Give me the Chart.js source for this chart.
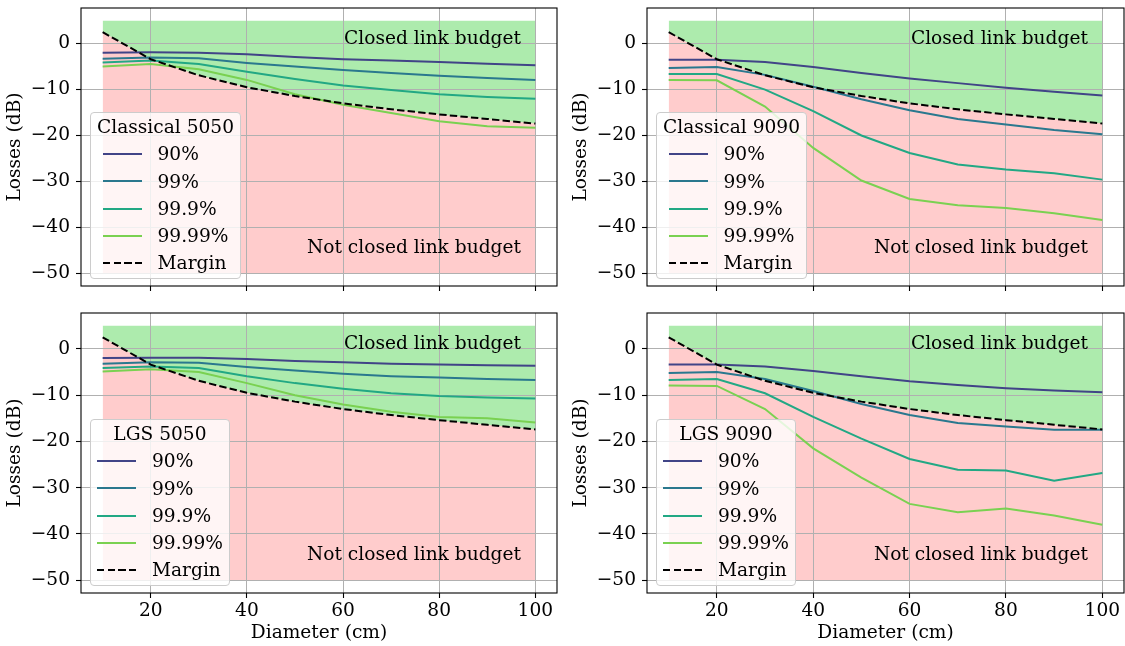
<!DOCTYPE html>
<html>
<head>
<script src="https://cdn.jsdelivr.net/npm/chart.js"></script>
<style>
  body { margin: 0; background: #fff; }
  #fig { position: relative; width: 1125px; height: 646px; overflow: hidden; font-family: 'DejaVu Serif', serif; }
  .panel { position: absolute; }
  .legend { position: absolute; background: rgba(255, 255, 255, 0.8); border: 1px solid #cccccc; border-radius: 4px;
            font-size: 18.6px; line-height: 27.3px; text-align: center; padding: 0 6px 1px; box-sizing: border-box; color: #000; }
  .legend .rows { display: inline-block; text-align: left; }
  .legend .row { display: flex; align-items: center; height: 27.3px; }
  .legend .swatch { width: 39px; height: 2px; margin-right: 16px; flex: none; }
</style>
</head>
<body>
<div id="fig"></div>
<script>
// diameters in cm
const diameters = [10, 20, 30, 40, 50, 60, 70, 80, 90, 100];
const margin = [2.5, -3.4, -6.9, -9.5, -11.4, -13.0, -14.3, -15.4, -16.4, -17.4];

const classical5050_90   = [-2.0, -1.9, -2.0, -2.3, -2.9, -3.4, -3.7, -4.0, -4.4, -4.7];
const classical5050_99   = [-3.3, -3.0, -3.2, -4.2, -5.0, -5.75, -6.4, -7.0, -7.5, -7.9];
const classical5050_999  = [-4.1, -3.7, -4.45, -6.1, -7.7, -9.1, -10.1, -11.0, -11.6, -12.0];
const classical5050_9999 = [-5.0, -4.45, -5.6, -7.9, -11.0, -13.3, -15.1, -16.9, -18.0, -18.3];

const classical9090_90   = [-3.5, -3.5, -4.0, -5.1, -6.4, -7.6, -8.6, -9.6, -10.5, -11.3];
const classical9090_99   = [-5.3, -5.1, -6.8, -9.4, -12.1, -14.5, -16.4, -17.6, -18.8, -19.7];
const classical9090_999  = [-6.6, -6.6, -10.0, -14.7, -20.0, -23.8, -26.3, -27.4, -28.2, -29.6];
const classical9090_9999 = [-7.9, -8.0, -13.7, -22.7, -29.8, -33.8, -35.2, -35.8, -36.9, -38.4];

const lgs5050_90   = [-2.0, -1.9, -1.9, -2.2, -2.6, -2.9, -3.2, -3.4, -3.55, -3.65];
const lgs5050_99   = [-3.2, -2.9, -3.0, -3.9, -4.7, -5.4, -5.9, -6.2, -6.5, -6.7];
const lgs5050_999  = [-4.15, -3.8, -4.15, -5.9, -7.4, -8.6, -9.6, -10.2, -10.5, -10.7];
const lgs5050_9999 = [-4.9, -4.4, -5.0, -7.4, -10.0, -12.0, -13.6, -14.7, -15.0, -15.9];

const lgs9090_90   = [-3.4, -3.4, -3.8, -4.8, -5.9, -7.0, -7.8, -8.5, -9.0, -9.4];
const lgs9090_99   = [-5.2, -5.0, -6.5, -9.1, -11.9, -14.3, -16.0, -16.8, -17.5, -17.5];
const lgs9090_999  = [-6.7, -6.5, -9.6, -14.7, -19.4, -23.8, -26.1, -26.3, -28.5, -26.8];
const lgs9090_9999 = [-7.9, -8.0, -13.0, -21.5, -27.8, -33.5, -35.3, -34.5, -36.0, -38.0];

const seriesLabels = ['90%', '99%', '99.9%', '99.99%'];
const seriesColors = ['#414487', '#2a788e', '#22a884', '#7ad151'];
const xTicks = [20, 40, 60, 80, 100];
const yTicks = [-50, -40, -30, -20, -10, 0];
const budgetTop = 5;
const budgetBottom = -50;
const regionLabels = ['Closed link budget', 'Not closed link budget'];

const FONT = { family: "'DejaVu Serif', serif", size: 18.6 };
const fig = document.getElementById('fig');

const panels = [
  { title: 'Classical 5050', series: [classical5050_90, classical5050_99, classical5050_999, classical5050_9999],
    left: 0, top: 0, width: 560, height: 300, padTop: 8, padRight: 3, bottomRow: false },
  { title: 'Classical 9090', series: [classical9090_90, classical9090_99, classical9090_999, classical9090_9999],
    left: 566, top: 0, width: 559, height: 300, padTop: 8, padRight: 1, bottomRow: false },
  { title: 'LGS 5050', series: [lgs5050_90, lgs5050_99, lgs5050_999, lgs5050_9999],
    left: 0, top: 300, width: 560, height: 346, padTop: 13, padRight: 3, bottomRow: true },
  { title: 'LGS 9090', series: [lgs9090_90, lgs9090_99, lgs9090_999, lgs9090_9999],
    left: 566, top: 300, width: 559, height: 346, padTop: 13, padRight: 1, bottomRow: true },
];

// frame + region labels
const decor = {
  id: 'decor',
  afterDatasetsDraw(chart) {
    const { ctx, chartArea: a, scales: { x, y } } = chart;
    ctx.save();
    ctx.font = FONT.size + 'px ' + FONT.family;
    ctx.fillStyle = '#000';
    ctx.textAlign = 'right';
    ctx.textBaseline = 'alphabetic';
    ctx.fillText(regionLabels[0], x.getPixelForValue(97), y.getPixelForValue(0));
    ctx.fillText(regionLabels[1], x.getPixelForValue(97), y.getPixelForValue(-45.6));
    ctx.strokeStyle = '#000';
    ctx.lineWidth = 1.1;
    ctx.strokeRect(a.left, a.top, a.right - a.left, a.bottom - a.top);
    ctx.restore();
  }
};

function pts(ys) {
  return diameters.map((d, i) => ({ x: d, y: ys[i] }));
}

function buildPanel(p) {
  const box = document.createElement('div');
  box.className = 'panel';
  box.style.left = p.left + 'px';
  box.style.top = p.top + 'px';
  box.style.width = p.width + 'px';
  box.style.height = p.height + 'px';
  const canvas = document.createElement('canvas');
  canvas.width = p.width;
  canvas.height = p.height;
  box.appendChild(canvas);
  fig.appendChild(box);

  const xAxisHeight = p.bottomRow ? 53 : 14;
  const yAxisWidth = 81;

  // 0: closed band top, 1: margin, 2: floor, then the series
  const datasets = [
    { label: 'closed', data: diameters.map(d => ({ x: d, y: budgetTop })), borderColor: 'rgba(0,0,0,0)', borderWidth: 0,
      fill: 1, backgroundColor: 'rgba(50, 205, 50, 0.4)', pointRadius: 0, order: 2 },
    { label: 'Margin', data: pts(margin), borderColor: '#000', borderWidth: 2, borderDash: [7.4, 3.2],
      fill: 2, backgroundColor: 'rgba(255, 0, 0, 0.2)', pointRadius: 0, order: 0 },
    { label: 'floor', data: diameters.map(d => ({ x: d, y: budgetBottom })), borderColor: 'rgba(0,0,0,0)', borderWidth: 0,
      fill: false, pointRadius: 0, order: 2 },
  ];
  for (let i = p.series.length - 1; i >= 0; i--) {
    datasets.push({ label: seriesLabels[i], data: pts(p.series[i]), borderColor: seriesColors[i],
      borderWidth: 2, fill: false, pointRadius: 0, tension: 0, order: 1 });
  }

  new Chart(canvas, {
    type: 'line',
    data: { datasets },
    plugins: [decor],
    options: {
      responsive: false,
      animation: false,
      devicePixelRatio: 1,
      layout: { padding: { top: p.padTop, right: p.padRight, left: 0, bottom: 0 } },
      plugins: {
        legend: { display: false },
        tooltip: { enabled: false },
        filler: { drawTime: 'beforeDraw', propagate: false }
      },
      scales: {
        x: {
          type: 'linear', min: 5.5, max: 104.5, bounds: 'data',
          afterBuildTicks: s => { s.ticks = xTicks.map(v => ({ value: v })); },
          afterFit: s => { s.height = xAxisHeight; s.paddingLeft = 0; s.paddingRight = 0; },
          grid: { color: '#b0b0b0', lineWidth: 1, tickColor: '#000', tickLength: 5, tickWidth: 1.1 },
          border: { display: false },
          ticks: { display: p.bottomRow, color: '#000', padding: 2, maxRotation: 0, autoSkip: false, font: FONT },
          title: { display: p.bottomRow, text: 'Diameter (cm)', color: '#000', font: FONT, padding: { top: 0, bottom: 2 } }
        },
        y: {
          type: 'linear', min: -52.75, max: 7.75, bounds: 'data',
          afterBuildTicks: s => { s.ticks = yTicks.map(v => ({ value: v })); },
          afterFit: s => { s.width = yAxisWidth; s.paddingTop = 0; s.paddingBottom = 0; },
          grid: { color: '#b0b0b0', lineWidth: 1, tickColor: '#000', tickLength: 5, tickWidth: 1.1 },
          border: { display: false },
          ticks: { color: '#000', padding: 6, font: FONT, callback: v => String(v).replace('-', '\u2212') },
          title: { display: true, text: 'Losses (dB)', color: '#000', font: FONT, padding: { top: 4, bottom: 0 } }
        }
      }
    }
  });

  // legend box, lower left inside the axes
  const leg = document.createElement('div');
  leg.className = 'legend';
  leg.style.left = (p.left + yAxisWidth + 9) + 'px';
  leg.style.top = (p.top + p.height - xAxisHeight - 8 - 166) + 'px';
  const t = document.createElement('div');
  t.textContent = p.title;
  leg.appendChild(t);
  const rows = document.createElement('div');
  rows.className = 'rows';
  const entries = seriesLabels.map((l, i) => ({ label: l, color: seriesColors[i], dashed: false }));
  entries.push({ label: 'Margin', color: '#000', dashed: true });
  entries.forEach(e => {
    const r = document.createElement('div');
    r.className = 'row';
    const sw = document.createElement('span');
    sw.className = 'swatch';
    sw.style.background = e.dashed
      ? 'repeating-linear-gradient(90deg, #000 0 7.4px, transparent 7.4px 10.6px)'
      : e.color;
    const tx = document.createElement('span');
    tx.textContent = e.label;
    r.appendChild(sw);
    r.appendChild(tx);
    rows.appendChild(r);
  });
  leg.appendChild(rows);
  fig.appendChild(leg);
}

panels.forEach(buildPanel);
</script>
</body>
</html>
